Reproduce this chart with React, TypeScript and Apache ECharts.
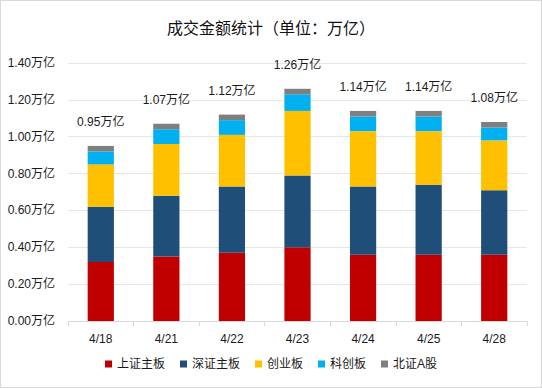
import React, { useEffect, useRef } from "react";
import * as echarts from "echarts";

const categories = ["4/18", "4/21", "4/22", "4/23", "4/24", "4/25", "4/28"];
const shMain = [0.32, 0.35, 0.37, 0.40, 0.36, 0.36, 0.36];
const szMain = [0.30, 0.33, 0.36, 0.39, 0.37, 0.38, 0.35];
const chinext = [0.23, 0.28, 0.28, 0.35, 0.30, 0.29, 0.27];
const star = [0.07, 0.08, 0.08, 0.09, 0.08, 0.08, 0.07];
const bse = [0.03, 0.03, 0.03, 0.03, 0.03, 0.03, 0.03];
const totals = [0.95, 1.07, 1.12, 1.26, 1.14, 1.14, 1.08];
const seriesNames = ["上证主板", "深证主板", "创业板", "科创板", "北证A股"];
const colors = ["#C00000", "#1F4E79", "#FFC000", "#00B0F0", "#7F7F7F"];

const FONT = "'Liberation Sans', 'Noto Sans CJK SC', sans-serif";

export default function App() {
  const ref = useRef<HTMLDivElement>(null);
  useEffect(() => {
    if (!ref.current) return;
    const chart = echarts.init(ref.current, undefined, { renderer: "svg" });
    const seriesData = [shMain, szMain, chinext, star, bse];
    const series: any[] = seriesData.map((d, i) => ({
      name: seriesNames[i],
      type: "bar",
      stack: "total",
      data: d,
      barWidth: "40%",
      itemStyle: { color: colors[i] },
      emphasis: { disabled: true },
    }));
    series[4].label = {
      show: true,
      position: "top",
      distance: 18,
      color: "#1a1a1a",
      fontSize: 12,
      fontFamily: FONT,
      formatter: (p: any) => totals[p.dataIndex].toFixed(2) + "万亿",
    };
    chart.setOption({
      animation: false,
      color: colors,
      title: {
        text: "成交金额统计（单位：万亿）",
        left: "center",
        top: 13,
        textStyle: { fontSize: 16, fontWeight: "normal", color: "#111", fontFamily: "'Noto Sans CJK SC', sans-serif" },
      },
      legend: {
        bottom: 12,
        left: "center",
        itemWidth: 7,
        itemHeight: 7,
        itemGap: 15,
        icon: "rect",
        textStyle: { fontSize: 12, color: "#1a1a1a", fontFamily: FONT },
        data: seriesNames,
      },
      grid: { left: 67, right: 14, top: 62, bottom: 66, containLabel: false },
      xAxis: {
        type: "category",
        data: categories,
        axisLine: { lineStyle: { color: "#d9d9d9" } },
        axisTick: { show: true, length: 5, lineStyle: { color: "#d9d9d9" } },
        axisLabel: { color: "#1a1a1a", fontSize: 12, margin: 12, fontFamily: FONT },
      },
      yAxis: {
        type: "value",
        min: 0,
        max: 1.4,
        interval: 0.2,
        axisLine: { show: false },
        axisTick: { show: false },
        splitLine: { lineStyle: { color: "#e6e6e6" } },
        axisLabel: {
          color: "#1a1a1a",
          fontSize: 12,
          margin: 13,
          fontFamily: FONT,
          formatter: (v: number) => v.toFixed(2) + "万亿",
        },
      },
      series,
    });
    return () => chart.dispose();
  }, []);
  return (
    <div
      style={{
        position: "fixed",
        left: 0,
        top: 0,
        width: 542,
        height: 388,
        boxSizing: "border-box",
        border: "1px solid #d9d9d9",
        background: "#fff",
      }}
    >
      <div ref={ref} style={{ width: 540, height: 386 }} />
    </div>
  );
}
